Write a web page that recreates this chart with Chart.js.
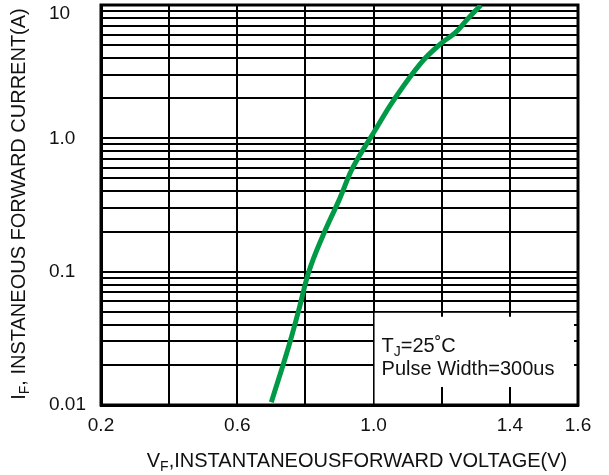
<!DOCTYPE html>
<html>
<head>
<meta charset="utf-8">
<script src="https://cdn.jsdelivr.net/npm/chart.js@4.4.1/dist/chart.umd.min.js"></script>
<style>
  body { margin: 0; background: #fff; }
  #wrap { width: 609px; height: 475px; }
</style>
</head>
<body>
<div id="wrap"><canvas id="chart" width="609" height="475"></canvas></div>
<script>
// forward voltage (V) vs instantaneous forward current (A)
const voltage = [0.70, 0.75, 0.78, 0.81, 0.85, 0.90, 0.94, 1.00, 1.06, 1.14, 1.20, 1.24, 1.275, 1.315];
const current = [0.0105, 0.027, 0.051, 0.10, 0.183, 0.35, 0.61, 1.1, 1.95, 3.7, 5.2, 6.2, 7.8, 10.0];

const xGridValues = [0.2, 0.4, 0.6, 0.8, 1.0, 1.2, 1.4, 1.6];
const xLabelValues = [0.2, 0.6, 1.0, 1.4, 1.6];
const yDecades = [0.01, 0.1, 1, 10];
const yDecadeLabels = ["0.01", "0.1", "1.0", "10"];
const yMinorSteps = [2, 3, 4, 5, 6, 7, 8, 9];

const noteLine1 = ["T", "J", "=25˚C"];
const noteLine2 = "Pulse Width=300us";
const yTitle = ["I", "F", ", INSTANEOUS FORWARD CURRENT(A)"];
const xTitle = ["V", "F", ",INSTANTANEOUSFORWARD VOLTAGE(V)"];

const FONT = '"Liberation Sans", Arial, sans-serif';
const ctx = document.getElementById("chart");

// text with a subscript: parts = [main, sub, rest]
function drawSub(c, parts, x, y, size) {
  c.font = size + "px " + FONT;
  c.fillText(parts[0], x, y);
  x += c.measureText(parts[0]).width;
  c.font = Math.round(size * 0.68) + "px " + FONT;
  c.fillText(parts[1], x, y + 4);
  x += c.measureText(parts[1]).width;
  c.font = size + "px " + FONT;
  c.fillText(parts[2], x, y);
}
function subWidth(c, parts, size) {
  c.font = size + "px " + FONT;
  let w = c.measureText(parts[0]).width + c.measureText(parts[2]).width;
  c.font = Math.round(size * 0.68) + "px " + FONT;
  return w + c.measureText(parts[1]).width;
}

// white note box in the lower right corner, titles, top tick label
const notePlugin = {
  id: "note",
  beforeDatasetsDraw(chart) {
    const c = chart.ctx;
    const xs = chart.scales.x, ys = chart.scales.y;
    const a = chart.chartArea;
    const left = xs.getPixelForValue(1.0);
    const top = ys.getPixelForValue(0.05);
    c.save();
    c.fillStyle = "#fff";
    c.fillRect(left + 1, top + 1, a.right - left - 1, a.bottom - top - 1);
    c.strokeStyle = "#000";
    c.lineWidth = 2;
    c.beginPath();
    // ticks poking into the box
    [1.2, 1.4].forEach((v) => {
      const px = Math.round(xs.getPixelForValue(v));
      c.moveTo(px, a.bottom);
      c.lineTo(px, a.bottom - 18);
      c.moveTo(px, top);
      c.lineTo(px, top + 5);
    });
    [0.02, 0.03, 0.04].forEach((v) => {
      const py = Math.round(ys.getPixelForValue(v));
      c.moveTo(a.right, py);
      c.lineTo(a.right - 4, py);
    });
    c.stroke();
    c.lineWidth = 3;
    c.strokeRect(a.left, a.top, a.right - a.left, a.bottom - a.top);
    c.fillStyle = "#111";
    c.textBaseline = "alphabetic";
    c.textAlign = "left";
    drawSub(c, noteLine1, left + 8, 352, 20);
    c.font = "20px " + FONT;
    c.fillText(noteLine2, left + 8, 375);
    c.restore();
  },
  afterDraw(chart) {
    const c = chart.ctx;
    c.save();
    c.fillStyle = "#111";
    // top decade label sits just under the frame
    c.font = "19px " + FONT;
    c.textAlign = "left";
    c.textBaseline = "middle";
    c.fillText(yDecadeLabels[yDecadeLabels.length - 1], chart.scales.y.left, 14);
    c.textBaseline = "alphabetic";
    const wx = subWidth(c, xTitle, 20);
    drawSub(c, xTitle, 357 - wx / 2, 467, 20);
    const wy = subWidth(c, yTitle, 20);
    c.translate(25, 204 + wy / 2);
    c.rotate(-Math.PI / 2);
    drawSub(c, yTitle, 0, 0, 20);
    c.restore();
  },
};

const myChart = new Chart(ctx, {
  type: "line",
  data: {
    datasets: [
      {
        data: voltage.map((v, i) => ({ x: v, y: current[i] })),
        borderColor: "#009a47",
        borderWidth: 5,
        pointRadius: 0,
        tension: 0.4,
        fill: false,
      },
    ],
  },
  options: {
    responsive: false,
    animation: false,
    layout: { padding: { left: 49, right: 31, top: 5, bottom: 0 } },
    plugins: { legend: { display: false }, tooltip: { enabled: false } },
    scales: {
      x: {
        type: "linear",
        min: 0.2,
        max: 1.6,
        afterBuildTicks(scale) {
          scale.ticks = xGridValues.map((v) => ({ value: v }));
        },
        afterFit(scale) {
          scale.height = 70;
          scale.paddingLeft = 0;
          scale.paddingRight = 0;
        },
        grid: { color: "#000", lineWidth: 2, drawTicks: false },
        border: { color: "#000", width: 3 },
        ticks: {
          padding: 9,
          color: "#111",
          font: { family: FONT, size: 19 },
          maxRotation: 0,
          autoSkip: false,
          callback: (v) => (xLabelValues.some((l) => Math.abs(l - v) < 1e-6) ? v.toFixed(1) : ""),
        },
      },
      y: {
        type: "logarithmic",
        min: 0.01,
        max: 10,
        afterBuildTicks(scale) {
          const t = [];
          yDecades.forEach((d, i) => {
            t.push({ value: d });
            if (i < yDecades.length - 1) yMinorSteps.forEach((m) => t.push({ value: d * m }));
          });
          scale.ticks = t;
        },
        afterFit(scale) {
          scale.width = 52;
          scale.paddingTop = 0;
          scale.paddingBottom = 0;
        },
        grid: { color: "#000", lineWidth: 2, drawTicks: false },
        border: { color: "#000", width: 3 },
        ticks: {
          padding: 10,
          crossAlign: "far",
          color: "#111",
          font: { family: FONT, size: 19 },
          autoSkip: false,
          callback: (v) => {
            const i = yDecades.findIndex((d) => Math.abs(d - v) / d < 1e-6);
            // top label is drawn by the plugin
            return i >= 0 && i < yDecades.length - 1 ? yDecadeLabels[i] : "";
          },
        },
      },
    },
  },
  plugins: [notePlugin],
});
</script>
</body>
</html>
